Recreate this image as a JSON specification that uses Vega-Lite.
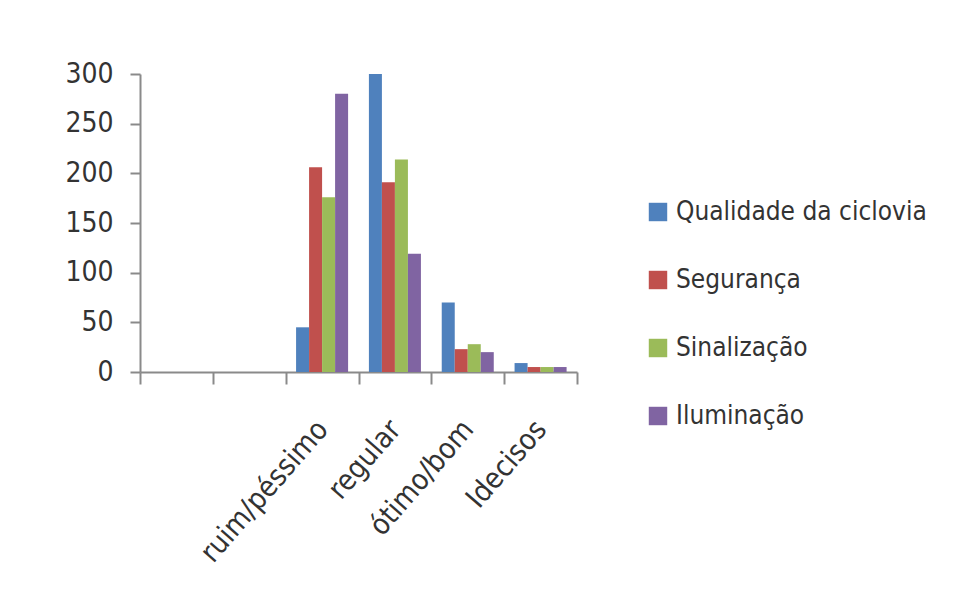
{
  "$schema": "https://vega.github.io/schema/vega-lite/v6.json",
  "width": 437,
  "height": 298,
  "autosize": {"type": "none"},
  "padding": {"left": 140, "top": 74, "right": 390, "bottom": 235},
  "background": "white",
  "data": {
    "values": [
      {"categoria": "ruim/péssimo", "serie": "Qualidade da ciclovia", "valor": 45},
      {"categoria": "ruim/péssimo", "serie": "Segurança", "valor": 206},
      {"categoria": "ruim/péssimo", "serie": "Sinalização", "valor": 176},
      {"categoria": "ruim/péssimo", "serie": "Iluminação", "valor": 280},
      {"categoria": "regular", "serie": "Qualidade da ciclovia", "valor": 300},
      {"categoria": "regular", "serie": "Segurança", "valor": 191},
      {"categoria": "regular", "serie": "Sinalização", "valor": 214},
      {"categoria": "regular", "serie": "Iluminação", "valor": 119},
      {"categoria": "ótimo/bom", "serie": "Qualidade da ciclovia", "valor": 70},
      {"categoria": "ótimo/bom", "serie": "Segurança", "valor": 23},
      {"categoria": "ótimo/bom", "serie": "Sinalização", "valor": 28},
      {"categoria": "ótimo/bom", "serie": "Iluminação", "valor": 20},
      {"categoria": "Idecisos", "serie": "Qualidade da ciclovia", "valor": 9},
      {"categoria": "Idecisos", "serie": "Segurança", "valor": 5},
      {"categoria": "Idecisos", "serie": "Sinalização", "valor": 5},
      {"categoria": "Idecisos", "serie": "Iluminação", "valor": 5}
    ]
  },
  "mark": {"type": "bar", "cornerRadiusTop": 3},
  "encoding": {
    "x": {
      "field": "categoria",
      "type": "nominal",
      "sort": null,
      "scale": {
        "domain": [" ", "  ", "ruim/péssimo", "regular", "ótimo/bom", "Idecisos"],
        "paddingInner": 0,
        "paddingOuter": 0
      },
      "axis": {
        "title": null,
        "labelAngle": -49,
        "labelAlign": "right",
        "labelBaseline": "middle",
        "labelPadding": 40,
        "labelFont": "Liberation Sans Narrow, DejaVu Sans Condensed, sans-serif",
        "labelFontSize": 29,
        "labelColor": "#333333",
        "labelLimit": 400,
        "domainColor": "#8a8a8a",
        "domainWidth": 2,
        "tickColor": "#8a8a8a",
        "tickWidth": 2,
        "tickSize": 12,
        "tickBand": "extent",
        "grid": false
      }
    },
    "xOffset": {
      "field": "serie",
      "type": "nominal",
      "sort": ["Qualidade da ciclovia", "Segurança", "Sinalização", "Iluminação"],
      "scale": {"paddingInner": 0, "paddingOuter": 0.8}
    },
    "y": {
      "field": "valor",
      "type": "quantitative",
      "scale": {"domain": [0, 300], "nice": false},
      "axis": {
        "title": null,
        "values": [0, 50, 100, 150, 200, 250, 300],
        "grid": false,
        "labelFont": "Liberation Sans Narrow, DejaVu Sans Condensed, sans-serif",
        "labelFontSize": 28,
        "labelColor": "#333333",
        "labelPadding": 17,
        "domainColor": "#8a8a8a",
        "domainWidth": 2,
        "tickColor": "#8a8a8a",
        "tickWidth": 2,
        "tickSize": 10
      }
    },
    "color": {
      "field": "serie",
      "type": "nominal",
      "sort": ["Qualidade da ciclovia", "Segurança", "Sinalização", "Iluminação"],
      "scale": {
        "domain": ["Qualidade da ciclovia", "Segurança", "Sinalização", "Iluminação"],
        "range": ["#4F81BD", "#C0504D", "#9BBB59", "#8064A2"]
      },
      "legend": {
        "title": null,
        "orient": "none",
        "legendX": 505,
        "legendY": 125,
        "symbolType": "square",
        "symbolSize": 340,
        "symbolStrokeWidth": 0,
        "labelFont": "Liberation Sans Narrow, DejaVu Sans Condensed, sans-serif",
        "labelFontSize": 26,
        "labelColor": "#333333",
        "labelLimit": 400,
        "labelOffset": 5,
        "rowPadding": 42
      }
    }
  },
  "config": {
    "view": {"stroke": null}
  }
}
